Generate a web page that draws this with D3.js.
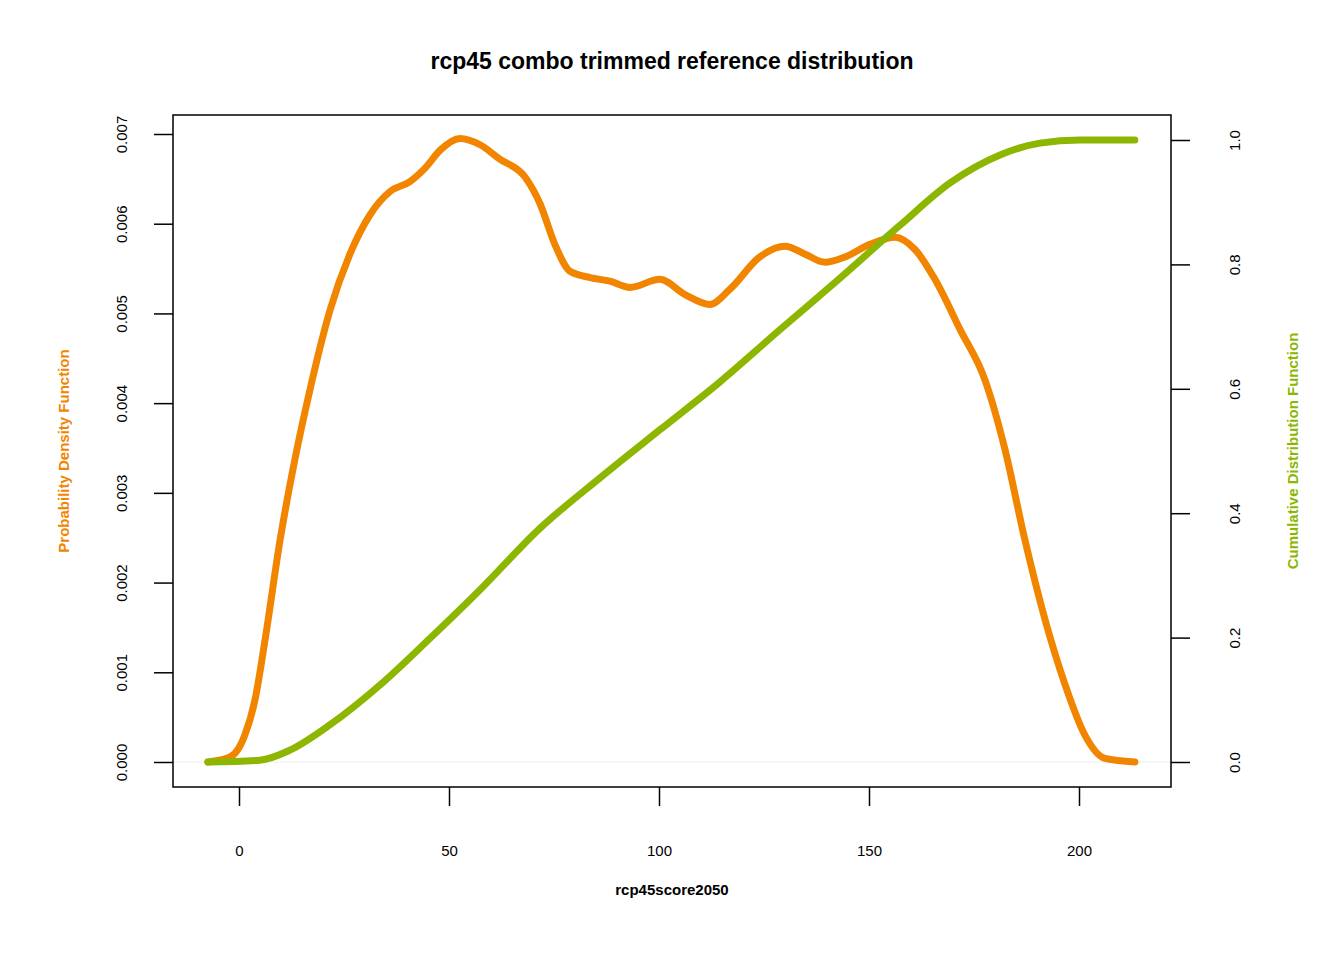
<!DOCTYPE html>
<html><head><meta charset="utf-8">
<script src="https://cdn.jsdelivr.net/npm/d3@7"></script>
<style>body{margin:0;background:#fff}text{font-family:"Liberation Sans",Arial,sans-serif}</style>
</head><body><div id="chart"></div>
<script>
var pdfX = [-7.4,-2.1,1.4,3.8,6.2,9.8,13.3,16.9,21.7,26.4,31.2,36.0,40.7,44.3,47.9,52.6,57.4,62.1,68.1,71.7,75.2,78.8,83.6,88.3,93.1,100.2,106.2,112.1,116.9,124.0,130.0,134.8,139.5,144.3,150.2,156.2,161.0,165.7,171.7,177.6,182.4,187.1,191.9,196.7,201.4,206.2,213.3];
var pdfY = [0,0.000056,0.000301,0.000691,0.00136,0.00248,0.00337,0.00415,0.00504,0.00566,0.00610,0.00636,0.00647,0.00662,0.00682,0.00695,0.00688,0.00672,0.00652,0.00622,0.00577,0.00547,0.00540,0.00536,0.00529,0.00538,0.00521,0.00510,0.00527,0.00563,0.00575,0.00566,0.00557,0.00563,0.00577,0.00585,0.00571,0.00538,0.00482,0.00426,0.00348,0.00248,0.00159,0.00086,0.00030,0.00004,0];
var cdfX = [-7.4,5.0,12.1,21.7,33.6,45.5,57.4,71.7,86.0,100.2,114.5,128.8,143.1,157.4,169.3,181.2,190.7,200.2,213.3];
var cdfY = [0,0.003,0.019,0.060,0.124,0.199,0.277,0.376,0.457,0.534,0.611,0.695,0.778,0.863,0.931,0.976,0.995,1.0,1.0];
var xTicks = [0,50,100,150,200];
var pdfTicks = [0,0.001,0.002,0.003,0.004,0.005,0.006,0.007];
var cdfTicks = [0,0.2,0.4,0.6,0.8,1.0];

var W = 1344, H = 960, L = 173, R = 1171, T = 115, B = 787;
var svg = d3.select("#chart").append("svg").attr("width", W).attr("height", H);

var x = d3.scaleLinear().domain([0,200]).range([239,1079]);
var yL = d3.scaleLinear().domain([0,0.007]).range([762,134]);
var yR = d3.scaleLinear().domain([0,1]).range([762,140]);

svg.append("text").attr("x", 672).attr("y", 69).attr("text-anchor","middle")
  .style("font-weight","bold").style("font-size","23px").text("rcp45 combo trimmed reference distribution");

// baseline at zero
svg.append("line").attr("x1",L).attr("x2",R).attr("y1",yL(0)).attr("y2",yL(0))
  .attr("stroke","#eeeeee").attr("stroke-width",1);

var line = d3.line().curve(d3.curveMonotoneX);
svg.append("path").attr("d", line(pdfX.map(function(d,i){ return [x(d), yL(pdfY[i])]; })))
  .attr("fill","none").attr("stroke","#F28500").attr("stroke-width",7).attr("stroke-linecap","round");
svg.append("path").attr("d", line(cdfX.map(function(d,i){ return [x(d), yR(cdfY[i])]; })))
  .attr("fill","none").attr("stroke","#8DB600").attr("stroke-width",7).attr("stroke-linecap","round");

svg.append("rect").attr("x",L).attr("y",T).attr("width",R-L).attr("height",B-T)
  .attr("fill","none").attr("stroke","#000").attr("stroke-width",1.5);

function style(g){ g.selectAll("text").style("font-size","15px").style("font-family","Liberation Sans, Arial"); g.select(".domain").remove(); g.selectAll("line").attr("stroke-width",1.5); }

var gx = svg.append("g").attr("transform","translate(0,"+B+")")
  .call(d3.axisBottom(x).tickValues(xTicks).tickSize(19).tickPadding(39));
style(gx);

var gl = svg.append("g").attr("transform","translate("+L+",0)")
  .call(d3.axisLeft(yL).tickValues(pdfTicks).tickSize(19).tickFormat(d3.format(".3f")));
style(gl);
gl.selectAll("text").attr("transform","rotate(-90,-46,0)")
  .attr("x",-46).attr("y",0).attr("dy","0").attr("text-anchor","middle");

var gr = svg.append("g").attr("transform","translate("+R+",0)")
  .call(d3.axisRight(yR).tickValues(cdfTicks).tickSize(19).tickFormat(d3.format(".1f")));
style(gr);
gr.selectAll("text").attr("transform","rotate(-90,69,0)")
  .attr("x",69).attr("y",0).attr("dy","0").attr("text-anchor","middle");

svg.append("text").attr("x",672).attr("y",895).attr("text-anchor","middle")
  .style("font-weight","bold").style("font-size","15px").text("rcp45score2050");
svg.append("text").attr("transform","translate(69,451) rotate(-90)").attr("text-anchor","middle")
  .style("font-weight","bold").style("font-size","15px").attr("fill","#F28500").text("Probability Density Function");
svg.append("text").attr("transform","translate(1298,451) rotate(-90)").attr("text-anchor","middle")
  .style("font-weight","bold").style("font-size","15px").attr("fill","#8DB600").text("Cumulative Distribution Function");
</script></body></html>
